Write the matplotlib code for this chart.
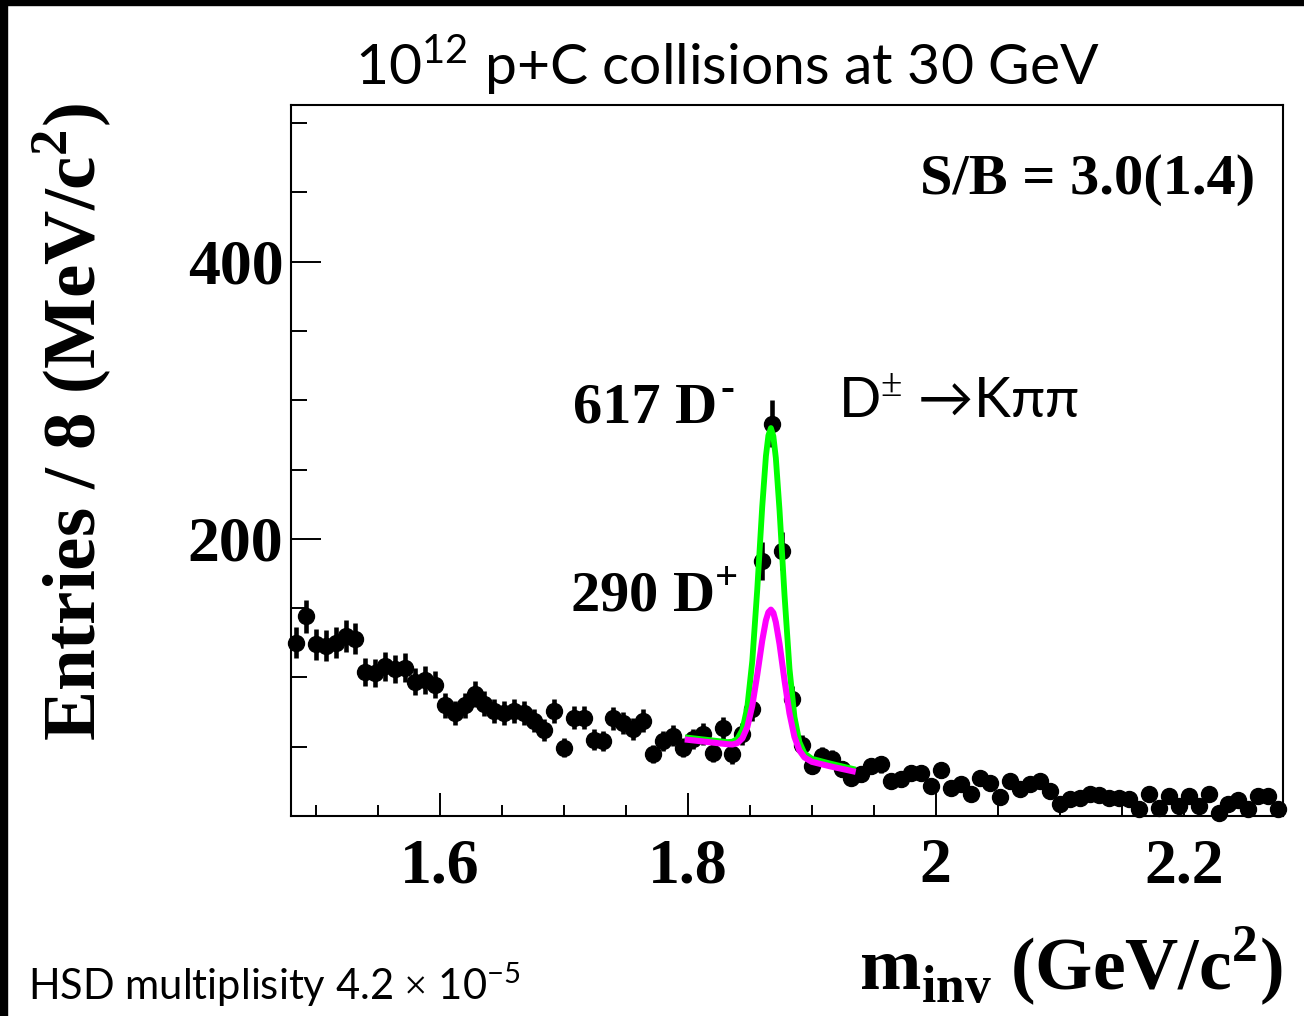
"""D± -> K pi pi invariant-mass spectrum, 10^12 p+C collisions at 30 GeV."""

import matplotlib.pyplot as plt
import numpy as np
from matplotlib.patches import Rectangle

plt.rcParams["mathtext.fontset"] = "custom"
plt.rcParams["mathtext.rm"] = "Liberation Serif"
plt.rcParams["mathtext.bf"] = "Liberation Serif:bold"
plt.rcParams["mathtext.sf"] = "Lato"

SERIF = "Liberation Serif"
SANS = ["Lato", "DejaVu Sans"]

W_PX, H_PX = 1304, 1016

# histogram: 8 MeV bins starting at 1.48 GeV
BIN_START = 1.48
BIN_WIDTH = 0.008
COUNTS = [
    125, 144, 124, 123, 125, 130, 128, 104, 103, 108,
    106, 107, 97, 98, 94.6, 80, 74.6, 80, 88, 81,
    76, 74.6, 76, 74.6, 68.6, 62, 76, 49.3, 71, 71,
    55, 54, 70.6, 67, 62.5, 68.6, 44.7, 54, 58, 49.3,
    55.6, 59.2, 45.7, 63.8, 44.5, 59.2, 77.3, 184, 283, 191,
    84.5, 51, 36, 43, 41, 34, 27.7, 30, 36, 37.3,
    25.6, 26.4, 31.3, 31.3, 22, 33, 20.5, 22.9, 15.7, 27.2,
    24, 13.7, 25.6, 19.3, 23.3, 25.3, 18, 8.9, 12, 13.2,
    15.7, 14.8, 13.2, 13.2, 12, 4.8, 16.1, 6, 14.4, 7.2,
    14.4, 7.2, 15.7, 2.4, 8.4, 11.3, 4.8, 14.4, 14.4, 4.8,
]

# fit curves
FIT_X = [1.800, 1.820, 1.832, 1.836, 1.840, 1.844, 1.848, 1.852, 1.856,
         1.860, 1.863, 1.865, 1.867, 1.869, 1.871, 1.874, 1.878, 1.882,
         1.886, 1.890, 1.894, 1.900, 1.915, 1.933]
FIT_TOTAL = [56.5, 54.5, 53.3, 53.6, 55.6, 62.0, 78.6, 111.8, 163.3,
             222.8, 259.7, 274.5, 279.9, 274.0, 258.3, 220.3, 159.3, 106.3,
             71.5, 53.3, 45.3, 41.3, 37.8, 34.0]
FIT_DPLUS = [55.0, 53.0, 51.8, 51.6, 52.6, 56.0, 64.2, 79.6, 101.9,
             126.5, 141.2, 147.0, 148.9, 146.6, 139.8, 124.0, 97.9, 74.1,
             57.1, 47.3, 42.3, 39.1, 35.8, 32.3]


def fx(px):
    return px / W_PX


def fy(py):
    return 1 - py / H_PX


def main():
    counts = np.asarray(COUNTS, dtype=float)
    centers = BIN_START + BIN_WIDTH * (np.arange(len(counts)) + 0.5)

    fig = plt.figure(figsize=(W_PX / 100, H_PX / 100), dpi=100)
    ax = fig.add_axes([fx(291), fy(816), fx(1283) - fx(291), fy(105) - fy(816)])

    eb = ax.errorbar(centers, counts, yerr=np.sqrt(counts), fmt="o", color="black",
                     markersize=11.5, elinewidth=3.3, capsize=0, zorder=3)
    for art in eb.get_children():
        art.set_clip_on(False)
    ax.plot(FIT_X, FIT_TOTAL, color="#00ff00", linewidth=4.2, zorder=4)
    ax.plot(FIT_X, FIT_DPLUS, color="#ff00ff", linewidth=4.4, zorder=5)

    ax.set_xlim(1.48, 2.28)
    ax.set_ylim(0, 513)
    ax.set_xticks([1.6, 1.8, 2.0, 2.2])
    ax.set_xticklabels(["1.6", "1.8", "2", "2.2"])
    ax.set_xticks(np.arange(1.5, 2.28, 0.05), minor=True)
    ax.set_yticks([200, 400])
    ax.set_yticks(np.arange(50, 513, 50), minor=True)
    for lbl in ax.get_xticklabels() + ax.get_yticklabels():
        lbl.set_fontfamily(SERIF)
        lbl.set_fontweight("bold")
        lbl.set_fontsize(46)
    ax.tick_params(which="both", direction="in", width=1.4, top=False, right=False)
    ax.tick_params(axis="y", which="major", length=21.6, pad=5.5)
    ax.tick_params(axis="y", which="minor", length=11.5)
    ax.tick_params(axis="x", which="major", length=16.5, pad=16)
    ax.tick_params(axis="x", which="minor", length=8)
    for sp in ax.spines.values():
        sp.set_linewidth(1.5)

    bold = dict(family=SERIF, weight="bold")
    fig.text(fx(72), fy(422), r"Entries / 8 (MeV/c$^{\mathbf{2}}$)", rotation=90,
             ha="center", va="center", fontsize=54, **bold)
    fig.text(fx(1283), fy(990), r"m$_{\mathbf{inv}}$ (GeV/c$^{\mathbf{2}}$)",
             ha="right", va="baseline", fontsize=53, **bold)
    fig.text(fx(1255), fy(180), "S/B = 3.0(1.4)", ha="right", va="center",
             fontsize=42, **bold)
    fig.text(fx(573), fy(423), "617 D", ha="left", va="baseline",
             fontsize=42, **bold)
    fig.text(fx(720), fy(400), "-", ha="left", va="baseline",
             fontsize=30, **bold)
    fig.text(fx(570), fy(612), r"290 D$^{\mathbf{+}}$", ha="left", va="baseline",
             fontsize=42, **bold)

    fig.text(fx(727), fy(65), r"10$^{\mathsf{12}}$ p+C collisions at 30 GeV",
             ha="center", va="center", fontsize=41, family=SANS)
    fig.text(fx(838), fy(418), "D$^{\\pm}$ \u2192K\u03c0\u03c0", ha="left",
             va="baseline", fontsize=40, family=SANS)
    fig.text(fx(28), fy(1000), r"HSD multiplisity 4.2 $\times$ 10$^{\mathsf{-5}}$",
             ha="left", va="baseline", fontsize=30, family=SANS)

    # black frame strips on the left and top edges
    fig.patches.append(Rectangle((0, 0), fx(7), 1, transform=fig.transFigure,
                                 color="black", zorder=10))
    fig.patches.append(Rectangle((0, fy(5)), 1, 1 - fy(5), transform=fig.transFigure,
                                 color="black", zorder=10))

    fig.savefig("out.png", dpi=100)
    plt.close(fig)


if __name__ == "__main__":
    main()
